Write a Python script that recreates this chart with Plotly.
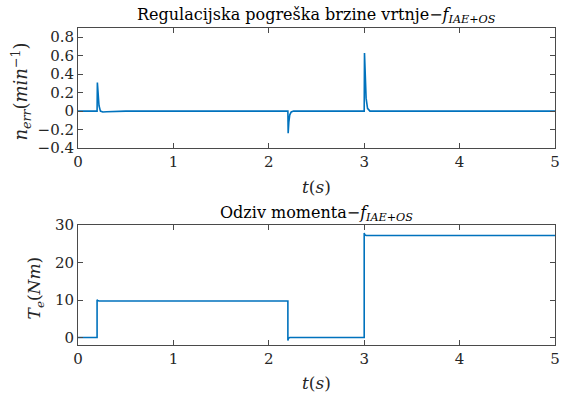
import plotly.graph_objects as go
from plotly.subplots import make_subplots

# --- data ---
t_err = [0, 0.2, 0.203, 0.21, 0.22, 0.235, 0.26, 0.3, 0.4, 0.5,
         2.2, 2.203, 2.21, 2.22, 2.235, 2.26, 2.3,
         3.0, 3.003, 3.01, 3.02, 3.035, 3.06, 3.1, 5.0]
n_err = [0, 0, 0.31, 0.17, 0.06, 0.0, -0.01, -0.008, -0.003, 0,
         0, -0.24, -0.12, -0.04, -0.01, 0.0, 0,
         0, 0.63, 0.35, 0.14, 0.03, 0.0, 0, 0]

t_te = [0, 0.2, 0.2, 0.205, 0.22, 2.2, 2.2, 2.205, 2.22, 3.0, 3.0, 3.005, 3.02, 5.0]
T_e = [0, 0, 10.1, 9.9, 9.75, 9.75, -0.8, -0.2, 0, 0, 27.9, 27.4, 27.2, 27.2]

x_ticks = [0, 1, 2, 3, 4, 5]
y1_ticks = [-0.4, -0.2, 0, 0.2, 0.4, 0.6, 0.8]
y1_labels = ["\u22120.4", "\u22120.2", "0", "0.2", "0.4", "0.6", "0.8"]
y2_ticks = [0, 10, 20, 30]

title1 = "Regulacijska pogreška brzine vrtnje\u2212<i>f</i><sub><i>IAE+OS</i></sub>"
title2 = "Odziv momenta\u2212<i>f</i><sub><i>IAE+OS</i></sub>"
ylab1 = "<i>n</i><sub><i>err</i></sub>(<i>min</i><sup>\u22121</sup>)"
ylab2 = "<i>T</i><sub><i>e</i></sub>(<i>Nm</i>)"
xlab = "<i>t</i>(<i>s</i>)"

FONT = "'DejaVu Serif', 'Liberation Serif', serif"
COL = "#0072BD"
AX = "#4a4a4a"

W, H = 565, 398
ml, mr, mt, mb = 78, 5, 28, 53
ph = H - mt - mb

fig = make_subplots(rows=2, cols=1)
fig.add_trace(go.Scatter(x=t_err, y=n_err, mode="lines",
                         line=dict(color=COL, width=1.6), showlegend=False), row=1, col=1)
fig.add_trace(go.Scatter(x=t_te, y=T_e, mode="lines",
                         line=dict(color=COL, width=1.6), showlegend=False), row=2, col=1)

top_top, top_bot = 28, 148
bot_top, bot_bot = 225, 345
def frac(y):
    return 1 - (y - mt) / ph

axis_common = dict(showline=True, linecolor=AX, linewidth=1, mirror="ticks",
                   ticks="inside", ticklen=5, tickcolor=AX, showgrid=False,
                   zeroline=False, tickfont=dict(family=FONT, size=15, color="#262626"))

fig.update_xaxes(range=[0, 5], tickvals=x_ticks, **axis_common)
fig.update_yaxes(**axis_common)
fig.update_layout(
    yaxis=dict(domain=[frac(top_bot), frac(top_top)], range=[-0.4, 0.9],
               tickvals=y1_ticks, ticktext=y1_labels),
    yaxis2=dict(domain=[frac(bot_bot), frac(bot_top)], range=[-2, 30],
                tickvals=y2_ticks),
)

def py(y):
    return 1 - (y - mt) / ph

ann = []
tf = dict(family=FONT, size=16, color="#000000")
ann.append(dict(text=title1, x=0.5, y=py(15), xref="paper", yref="paper",
                showarrow=False, font=tf, xanchor="center", yanchor="middle"))
ann.append(dict(text=title2, x=0.5, y=py(213), xref="paper", yref="paper",
                showarrow=False, font=tf, xanchor="center", yanchor="middle"))
lf = dict(family=FONT, size=17, color="#262626")
ann.append(dict(text=xlab, x=0.5, y=py(187), xref="paper", yref="paper",
                showarrow=False, font=lf, xanchor="center", yanchor="middle"))
ann.append(dict(text=xlab, x=0.5, y=py(383), xref="paper", yref="paper",
                showarrow=False, font=lf, xanchor="center", yanchor="middle"))
ann.append(dict(text=ylab1, x=(20 - ml) / (W - ml - mr), y=py(92), xref="paper", yref="paper",
                showarrow=False, font=dict(family=FONT, size=18, color="#262626"),
                textangle=-90, xanchor="center", yanchor="middle"))
ann.append(dict(text=ylab2, x=(35 - ml) / (W - ml - mr), y=py(288), xref="paper", yref="paper",
                showarrow=False, font=lf, textangle=-90, xanchor="center", yanchor="middle"))

fig.update_layout(width=W, height=H, margin=dict(l=ml, r=mr, t=mt, b=mb),
                  paper_bgcolor="white", plot_bgcolor="white", annotations=ann,
                  font=dict(family=FONT))
fig.write_html("out.html", config={"displayModeBar": False},
               post_script="document.body.style.margin='0';")
